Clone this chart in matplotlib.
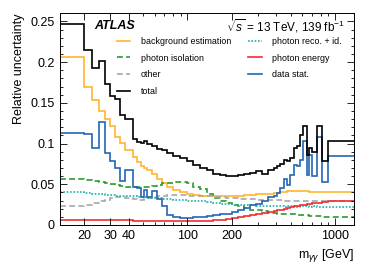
import numpy as np
import matplotlib
matplotlib.use("Agg")
import matplotlib.pyplot as plt
from matplotlib.ticker import FixedLocator, LogLocator, NullFormatter, MultipleLocator, FuncFormatter

plt.rcParams['font.family'] = ['Liberation Sans', 'DejaVu Sans']
plt.rcParams['mathtext.fontset'] = 'custom'
plt.rcParams['mathtext.rm'] = 'Liberation Sans'
plt.rcParams['mathtext.it'] = 'Liberation Sans:italic'

# m_yy bin edges [GeV]
edges = [13.7, 20.0, 22.6, 25.3, 27.7, 30.0, 32.4, 35.0, 37.6, 43.2,
         45.6, 48.6, 50.9, 53.3, 57.2, 61.9, 66.9, 72.3, 80.0, 89.2,
         99.1, 109.3, 121.9, 135.3, 149.3, 166.5, 182.8, 200.7, 220.4, 242.0,
         265.8, 291.9, 320.5, 351.9, 386.4, 404.9, 424.3, 448.0, 473.2, 495.8,
         523.6, 552.9, 579.4, 610.0, 643.3, 669.9, 695.4, 751.7, 812.8, 900.6,
         1345.0]

total = [0.247, 0.215, 0.193, 0.202, 0.173, 0.158, 0.155, 0.135, 0.130, 0.106,
         0.102, 0.101, 0.103, 0.0996, 0.0975, 0.0934, 0.0918, 0.0885, 0.085, 0.082,
         0.078, 0.074, 0.070, 0.067, 0.063, 0.061, 0.0597, 0.0605, 0.0617, 0.063,
         0.064, 0.0658, 0.063, 0.068, 0.070, 0.072, 0.075, 0.080, 0.079, 0.082,
         0.095, 0.097, 0.111, 0.121, 0.086, 0.095, 0.090, 0.121, 0.078, 0.103]

data_stat = [0.113, 0.112, 0.095, 0.127, 0.088, 0.078, 0.070, 0.054, 0.068, 0.047,
             0.046, 0.034, 0.043, 0.034, 0.042, 0.032, 0.023, 0.012, 0.0095, 0.009,
             0.009, 0.0095, 0.010, 0.011, 0.012, 0.013, 0.014, 0.016, 0.018, 0.021,
             0.024, 0.026, 0.029, 0.034, 0.035, 0.039, 0.045, 0.056, 0.049, 0.062,
             0.074, 0.072, 0.080, 0.103, 0.062, 0.086, 0.060, 0.108, 0.053, 0.085]

bkg_est = [0.206, 0.169, 0.154, 0.140, 0.130, 0.121, 0.108, 0.101, 0.092, 0.083,
           0.077, 0.073, 0.070, 0.067, 0.063, 0.057, 0.052, 0.047, 0.043, 0.040,
           0.038, 0.037, 0.036, 0.0358, 0.0358, 0.0358, 0.0358, 0.036, 0.0362, 0.0365,
           0.037, 0.0375, 0.038, 0.0385, 0.039, 0.0395, 0.040, 0.041, 0.042, 0.042,
           0.042, 0.042, 0.042, 0.042, 0.042, 0.041, 0.041, 0.041, 0.0405, 0.040]

iso = [0.056, 0.055, 0.054, 0.053, 0.051, 0.050, 0.049, 0.048, 0.047, 0.047,
       0.047, 0.047, 0.047, 0.047, 0.048, 0.049, 0.051, 0.052, 0.053, 0.053,
       0.051, 0.047, 0.044, 0.038, 0.033, 0.030, 0.027, 0.025, 0.023, 0.021,
       0.019, 0.018, 0.017, 0.015, 0.0145, 0.014, 0.014, 0.0135, 0.0135, 0.013,
       0.013, 0.0125, 0.0125, 0.012, 0.012, 0.0115, 0.011, 0.0105, 0.010, 0.0095]

reco_id = [0.040, 0.039, 0.038, 0.038, 0.037, 0.037, 0.036, 0.036, 0.035, 0.035,
           0.034, 0.034, 0.034, 0.033, 0.033, 0.033, 0.032, 0.032, 0.031, 0.031,
           0.030, 0.030, 0.029, 0.028, 0.027, 0.026, 0.026, 0.025, 0.025, 0.024,
           0.024, 0.0235, 0.023, 0.023, 0.0235, 0.023, 0.023, 0.0225, 0.023, 0.0235,
           0.023, 0.0225, 0.023, 0.0235, 0.023, 0.022, 0.023, 0.0225, 0.022, 0.022]

other = [0.0235, 0.025, 0.027, 0.029, 0.031, 0.033, 0.034, 0.034, 0.033, 0.032,
         0.031, 0.031, 0.032, 0.033, 0.034, 0.035, 0.036, 0.037, 0.037, 0.037,
         0.036, 0.036, 0.035, 0.035, 0.034, 0.034, 0.033, 0.033, 0.032, 0.032,
         0.032, 0.031, 0.031, 0.031, 0.031, 0.0305, 0.0305, 0.030, 0.030, 0.030,
         0.030, 0.030, 0.0295, 0.0295, 0.0295, 0.029, 0.029, 0.029, 0.029, 0.029]

energy = [0.006, 0.006, 0.006, 0.006, 0.006, 0.006, 0.006, 0.006, 0.006, 0.0055,
          0.0055, 0.0055, 0.0055, 0.0055, 0.0055, 0.0055, 0.005, 0.005, 0.005, 0.005,
          0.005, 0.0048, 0.005, 0.0055, 0.006, 0.0065, 0.0075, 0.0085, 0.0095, 0.011,
          0.012, 0.0135, 0.015, 0.0165, 0.0175, 0.018, 0.019, 0.020, 0.021, 0.022,
          0.023, 0.0235, 0.024, 0.025, 0.0255, 0.026, 0.0265, 0.027, 0.028, 0.029]

fig = plt.figure(figsize=(3.74, 2.69), dpi=100)
ax = fig.add_axes([0.160, 0.1636, 0.7866, 0.787])

lw = 1.2
h_bkg = ax.stairs(bkg_est, edges, baseline=None, color='#ffb52e', lw=lw, label='background estimation')
h_iso = ax.stairs(iso, edges, baseline=None, color='#2b9a2b', lw=lw, ls=(0, (3.5, 2)), label='photon isolation')
h_oth = ax.stairs(other, edges, baseline=None, color='#a8a8a8', lw=lw, ls=(0, (3.5, 2)), label='other')
h_reco = ax.stairs(reco_id, edges, baseline=None, color='#1fb0b0', lw=lw, ls=(0, (1, 1)), label='photon reco. + id.')
h_en = ax.stairs(energy, edges, baseline=None, color='#ee3030', lw=lw, label='photon energy')
h_stat = ax.stairs(data_stat, edges, baseline=None, color='#2467b3', lw=lw, label='data stat.')
h_tot = ax.stairs(total, edges, baseline=None, color='black', lw=lw, label='total')

ax.set_xscale('log')
ax.set_xlim(edges[0], edges[-1])
ax.set_ylim(0, 0.26)

ax.xaxis.set_major_locator(FixedLocator([20, 30, 40, 100, 200, 1000]))
ax.xaxis.set_major_formatter(FuncFormatter(lambda v, p: '%d' % v))
ax.xaxis.set_minor_locator(LogLocator(base=10, subs=np.arange(2, 10), numticks=20))
ax.xaxis.set_minor_formatter(NullFormatter())
ax.yaxis.set_major_locator(MultipleLocator(0.05))
ax.yaxis.set_minor_locator(MultipleLocator(0.01))
ax.yaxis.set_major_formatter(FuncFormatter(lambda v, p: '%g' % round(v, 3)))

ax.tick_params(which='both', direction='in', top=True, right=True, width=0.6, labelsize=9)
ax.tick_params(which='major', length=5)
ax.tick_params(which='minor', length=2.5)
for s in ax.spines.values():
    s.set_linewidth(0.7)

ax.set_ylabel('Relative uncertainty', fontsize=9, loc='top')
ax.set_xlabel(r'm$_{\gamma\gamma}$ [GeV]', fontsize=9, loc='right')

ax.text(0.116, 0.94, 'ATLAS', transform=ax.transAxes, fontsize=9,
        fontweight='bold', fontstyle='italic', va='center', ha='left')
ax.text(0.969, 0.94, r'$\sqrt{s}$ = 13 TeV, 139 fb$^{-1}$', transform=ax.transAxes,
        fontsize=8.5, va='center', ha='right')

handles = [h_bkg, h_iso, h_oth, h_tot, h_reco, h_en, h_stat]
ax.legend(handles=handles, ncol=2, loc='upper left', bbox_to_anchor=(0.194, 0.888),
          frameon=False, fontsize=6.4, borderpad=0, borderaxespad=0,
          handlelength=1.5, handletextpad=1.2, labelspacing=0.85, columnspacing=1.9)

fig.savefig('out.png', dpi=100)
